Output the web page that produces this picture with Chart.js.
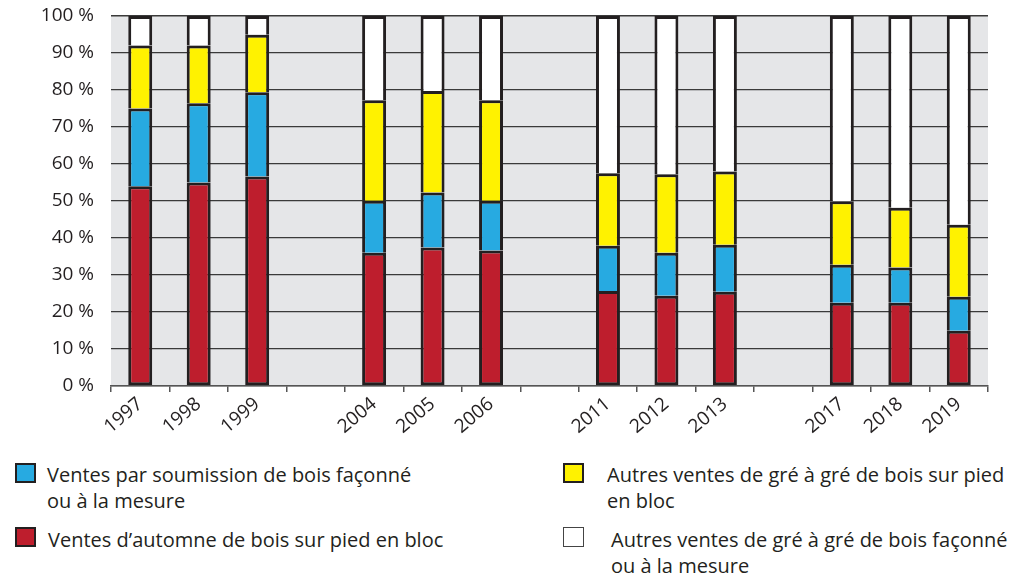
<!DOCTYPE html>
<html>
<head>
<meta charset="utf-8">
<script src="https://cdn.jsdelivr.net/npm/chart.js@4"></script>
<style>
  body { margin: 0; background: #fff; font-family: "Open Sans", sans-serif; color: #231f20; }
  #wrap { position: relative; width: 1012px; height: 440px; }
  .leg { position: absolute; font-size: 20px; line-height: 25.5px; white-space: nowrap; }
  .box { position: absolute; width: 17px; height: 16px; border: 2px solid #231f20; }
</style>
</head>
<body>
<div id="wrap"><canvas id="chart" width="1012" height="440"></canvas></div>

<div class="box" style="left:15px; top:463px; background:#27aae1;"></div>
<div class="leg" style="left:47px; top:462px;">Ventes par soumission de bois façonné<br>ou à la mesure</div>
<div class="box" style="left:15px; top:527px; background:#be1e2d;"></div>
<div class="leg" style="left:48px; top:527px;">Ventes d’automne de bois sur pied en bloc</div>
<div class="box" style="left:563px; top:463px; background:#fff200;"></div>
<div class="leg" style="left:607px; top:462px;">Autres ventes de gré à gré de bois sur pied<br>en bloc</div>
<div class="box" style="left:563px; top:527px; width:19px; height:18px; border:1px solid #444; background:#fff;"></div>
<div class="leg" style="left:611px; top:527px;">Autres ventes de gré à gré de bois façonné<br>ou à la mesure</div>

<script>
// categories (empty strings are the gaps between periods)
const years = ['1997', '1998', '1999', '', '2004', '2005', '2006', '', '2011', '2012', '2013', '', '2017', '2018', '2019'];

// share of each sale type, in %
const automne = [54, 55, 56.6, null, 36, 37.4, 36.6, null, 25.7, 24.4, 25.5, null, 22.5, 22.5, 14.9];
const soumission = [21, 21.4, 22.8, null, 14.1, 14.9, 13.5, null, 12.2, 11.6, 12.7, null, 10.3, 9.5, 9.2];
const greSurPied = [17, 15.6, 15.5, null, 27.1, 27.4, 27.1, null, 19.6, 21.2, 19.8, null, 17.1, 16.2, 19.5];
const greFaconne = [8, 8, 5.1, null, 22.8, 20.3, 22.8, null, 42.5, 42.8, 42, null, 50.1, 51.8, 56.4];

const yTicks = [0, 10, 20, 30, 40, 50, 60, 70, 80, 90, 100];

const edge = '#231f20';

// grey plot background
const plotBg = {
    id: 'plotBg',
    beforeDraw(chart) {
        const a = chart.chartArea;
        const c = chart.ctx;
        c.save();
        c.fillStyle = '#e5e6e8';
        c.fillRect(a.left, a.top, a.right - a.left, a.bottom - a.top);
        c.strokeStyle = '#9a9a9a';
        c.lineWidth = 1.5;
        c.beginPath();
        c.moveTo(a.left, a.top);
        c.lineTo(a.right, a.top);
        c.stroke();
        c.restore();
    }
};

function ds(label, data, color, skip) {
    return {
        label: label,
        data: data,
        backgroundColor: color,
        borderColor: edge,
        borderWidth: 3,
        borderSkipped: skip
    };
}

new Chart(document.getElementById('chart'), {
    type: 'bar',
    data: {
        labels: years,
        datasets: [
            ds('Ventes d’automne de bois sur pied en bloc', automne, '#be1e2d', false),
            ds('Ventes par soumission de bois façonné ou à la mesure', soumission, '#27aae1', 'bottom'),
            ds('Autres ventes de gré à gré de bois sur pied en bloc', greSurPied, '#fff200', 'bottom'),
            ds('Autres ventes de gré à gré de bois façonné ou à la mesure', greFaconne, '#ffffff', 'bottom')
        ]
    },
    options: {
        animation: false,
        responsive: false,
        layout: { padding: { left: 0, right: 24, top: 16, bottom: 0 } },
        plugins: { legend: { display: false }, tooltip: { enabled: false } },
        datasets: { bar: { categoryPercentage: 1, barPercentage: 0.41 } },
        scales: {
            x: {
                stacked: true,
                afterFit: (s) => { s.height = 54; s.paddingLeft = 0; s.paddingRight = 0; },
                border: { color: '#555', width: 1.5 },
                grid: { drawOnChartArea: false, drawTicks: true, tickLength: 6, color: '#555', lineWidth: 1.5 },
                ticks: {
                    autoSkip: false,
                    maxRotation: 40,
                    minRotation: 40,
                    padding: 1,
                    color: '#231f20',
                    font: { family: 'Open Sans', size: 19 }
                }
            },
            y: {
                stacked: true,
                min: 0,
                max: 100,
                afterFit: (s) => { s.width = 111; s.paddingTop = 0; s.paddingBottom = 0; },
                afterBuildTicks: (s) => { s.ticks = yTicks.map(v => ({ value: v })); },
                border: { display: false },
                grid: { color: '#3a3a3a', lineWidth: 1.3, drawTicks: false },
                ticks: {
                    padding: 17,
                    color: '#231f20',
                    font: { family: 'Open Sans', size: 19 },
                    callback: (v) => v + ' %'
                }
            }
        }
    },
    plugins: [plotBg]
});
</script>
</body>
</html>
